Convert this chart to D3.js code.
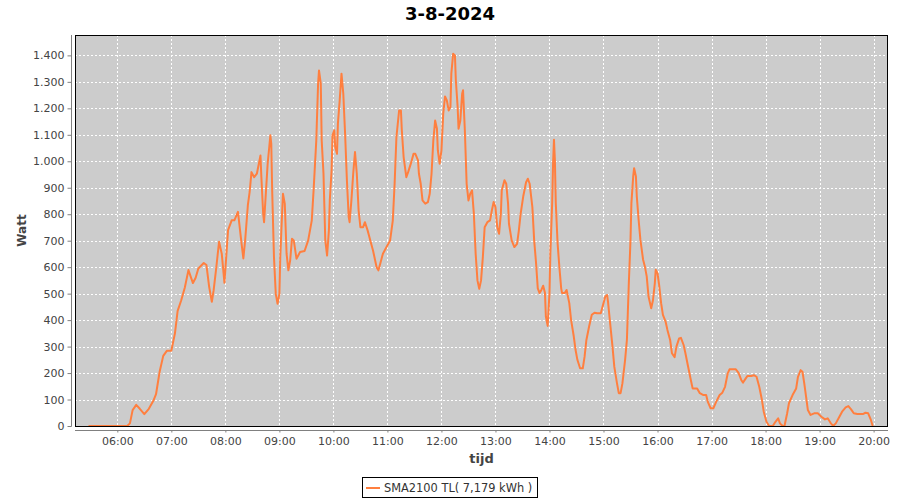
<!DOCTYPE html>
<html>
<head>
<meta charset="utf-8">
<script src="https://cdn.jsdelivr.net/npm/d3@7"></script>
<style>
  html, body { margin: 0; padding: 0; background: #ffffff; }
  svg { display: block; }
</style>
</head>
<body>
<svg id="chart" width="900" height="500"></svg>
<script>
const chartTitle = "3-8-2024";
const xAxisTitle = "tijd";
const yAxisTitle = "Watt";
const seriesName = "SMA2100 TL( 7,179 kWh )";
const xTickLabels = ["06:00","07:00","08:00","09:00","10:00","11:00","12:00","13:00","14:00","15:00","16:00","17:00","18:00","19:00","20:00"];
const yTickValues = [0,100,200,300,400,500,600,700,800,900,1000,1100,1200,1300,1400];

const times = [
"05:28","06:11","06:14","06:17","06:21","06:25","06:30","06:35","06:40","06:43","06:47","06:51","06:55","07:00",
"07:04","07:07","07:11","07:15","07:19","07:24","07:27","07:30","07:36","07:39","07:42","07:45","07:47","07:50",
"07:53","07:56","07:59","08:03","08:07","08:10","08:14","08:18","08:20","08:22","08:25","08:27","08:29","08:32",
"08:35","08:39","08:40","08:42","08:43","08:47","08:50","08:51","08:52","08:54","08:56","08:58","09:00","09:01",
"09:03","09:04","09:06","09:08","09:10","09:12","09:14","09:16","09:19","09:23","09:28","09:32","09:36","09:38",
"09:41","09:43","09:44","09:46","09:47","09:49","09:50","09:51","09:53","09:55","09:56","09:58","09:59","10:01",
"10:02","10:04","10:05","10:07","10:09","10:11","10:13","10:15","10:17","10:18","10:20","10:22","10:24","10:26",
"10:28","10:30","10:33","10:35","10:38","10:41","10:44","10:48","10:50","10:52","10:55","10:59","11:03","11:06",
"11:08","11:10","11:13","11:15","11:16","11:18","11:21","11:23","11:26","11:29","11:31","11:34","11:35","11:37",
"11:39","11:42","11:45","11:47","11:49","11:51","11:53","11:55","11:56","11:58","12:00","12:02","12:04","12:06",
"12:08","12:10","12:11","12:13","12:15","12:16","12:18","12:19","12:21","12:23","12:24","12:26","12:28","12:30",
"12:32","12:34","12:36","12:38","12:40","12:42","12:44","12:46","12:48","12:51","12:54","12:56","12:58","13:00",
"13:02","13:04","13:06","13:07","13:10","13:12","13:14","13:15","13:18","13:21","13:24","13:26","13:28","13:31",
"13:34","13:36","13:38","13:41","13:43","13:45","13:47","13:49","13:51","13:53","13:55","13:56","13:58","14:00",
"14:01","14:03","14:04","14:05","14:06","14:07","14:09","14:11","14:13","14:14","14:17","14:19","14:22","14:24",
"14:27","14:29","14:31","14:34","14:37","14:39","14:41","14:44","14:47","14:50","14:53","14:57","14:59","15:02",
"15:04","15:05","15:07","15:10","15:12","15:15","15:17","15:19","15:21","15:24","15:26","15:27","15:28","15:30",
"15:31","15:33","15:34","15:36","15:37","15:39","15:41","15:44","15:46","15:48","15:50","15:53","15:55","15:57",
"15:58","16:00","16:02","16:04","16:06","16:09","16:11","16:14","16:16","16:19","16:21","16:24","16:26","16:29",
"16:31","16:34","16:37","16:39","16:42","16:44","16:47","16:51","16:54","16:56","16:59","17:02","17:05","17:09",
"17:12","17:15","17:18","17:20","17:24","17:27","17:30","17:33","17:35","17:38","17:40","17:44","17:47","17:50",
"17:53","17:56","17:58","18:01","18:04","18:08","18:11","18:14","18:16","18:19","18:21","18:24","18:26","18:30",
"18:34","18:36","18:39","18:41","18:43","18:45","18:47","18:50","18:54","18:58","19:02","19:06","19:09","19:12",
"19:15","19:18","19:22","19:25","19:29","19:32","19:35","19:38","19:42","19:48","19:51","19:54","19:57","19:59"
];
const watts = [
0,0,10,60,80,65,45,65,95,120,205,265,284,284,
350,435,475,523,589,540,560,595,616,608,526,469,513,601,
696,651,541,740,777,777,809,689,633,702,834,884,959,940,
953,1022,940,802,770,991,1098,1066,890,638,499,462,499,638,
802,877,840,651,588,626,707,701,632,657,661,701,777,890,
1079,1293,1343,1293,1079,953,827,701,644,739,852,966,1098,1117,
1054,1028,1142,1230,1331,1255,1104,928,789,770,852,953,1035,953,
814,751,751,770,739,701,663,600,588,613,651,676,701,777,
915,1091,1192,1192,1117,1016,940,959,991,1028,1028,1003,953,915,
852,840,846,877,953,1079,1154,1123,1041,991,1040,1180,1245,1230,
1192,1205,1331,1406,1400,1306,1205,1123,1154,1255,1268,1117,915,852,
877,890,802,651,550,518,550,638,751,770,777,814,846,827,
751,726,802,890,928,915,840,764,701,676,688,739,802,870,
921,934,915,827,701,620,520,502,514,530,502,413,378,502,
653,842,993,1081,1006,842,691,600,520,502,502,514,464,401,
338,287,250,218,218,262,325,376,420,428,426,426,451,489,
495,470,401,300,224,161,124,124,161,250,325,426,527,703,
842,943,974,943,867,779,703,628,602,565,489,445,476,539,
590,577,527,464,420,394,363,325,275,260,300,331,333,306,
275,224,174,142,142,142,124,117,117,90,67,67,90,117,
126,148,199,214,214,214,201,174,164,180,189,189,192,186,
148,98,54,16,0,0,16,29,10,0,0,48,86,117,
142,186,211,205,161,111,60,42,48,48,35,25,29,13,
0,10,35,54,70,75,63,48,45,45,50,48,23,0
];

const toMin = s => { const p = s.split(":"); return +p[0] * 60 + +p[1]; };
const data = times.map((t, i) => ({ t: toMin(t), v: watts[i] }));

const svg = d3.select("#chart");
const plot = { left: 75, right: 888, top: 35, bottom: 426 };

const x = d3.scaleLinear().domain([toMin("05:13"), toMin("20:16")]).range([plot.left, plot.right]);
const y = d3.scaleLinear().domain([0, 1477]).range([plot.bottom, plot.top]);

const nl = d3.formatLocale({ decimal: ",", thousands: ".", grouping: [3], currency: ["", ""] });
const fmt = nl.format(",d");

const FONT = "'DejaVu Sans', sans-serif";

// plot background
svg.append("rect")
  .attr("x", plot.left).attr("y", plot.top)
  .attr("width", plot.right - plot.left).attr("height", plot.bottom - plot.top)
  .attr("fill", "#cccccc");

// gridlines
const grid = svg.append("g").attr("stroke", "#ffffff").attr("stroke-width", 1).attr("stroke-dasharray", "2,2");
yTickValues.forEach(v => {
  grid.append("line")
    .attr("x1", plot.left).attr("x2", plot.right)
    .attr("y1", Math.round(y(v)) + 0.5).attr("y2", Math.round(y(v)) + 0.5);
});
xTickLabels.forEach(l => {
  grid.append("line")
    .attr("x1", Math.round(x(toMin(l))) + 0.5).attr("x2", Math.round(x(toMin(l))) + 0.5)
    .attr("y1", plot.top).attr("y2", plot.bottom);
});

// series line
const line = d3.line().x(d => x(d.t)).y(d => y(d.v));
svg.append("path")
  .datum(data)
  .attr("d", line)
  .attr("fill", "none")
  .attr("stroke", "#ff7f3f")
  .attr("stroke-width", 2)
  .attr("stroke-linejoin", "round");

// plot outline
svg.append("rect")
  .attr("x", plot.left + 0.5).attr("y", plot.top + 0.5)
  .attr("width", plot.right - plot.left - 1).attr("height", plot.bottom - plot.top)
  .attr("fill", "none").attr("stroke", "#000000").attr("stroke-width", 1);

// Y axis
const yAxis = d3.axisLeft(y).tickValues(yTickValues).tickFormat(fmt).tickSize(4).tickSizeOuter(0).tickPadding(3);
const gy = svg.append("g").attr("transform", "translate(71.5,0)").call(yAxis);
gy.select(".domain").attr("stroke", "#808080").attr("d", `M0,${plot.top}V${plot.bottom + 0.5}`);
gy.selectAll(".tick line").attr("stroke", "#808080");
gy.selectAll(".tick text").attr("fill", "#444444").style("font-family", FONT).style("font-size", "11px");

// X axis
const xAxis = d3.axisBottom(x).tickValues(xTickLabels.map(toMin))
  .tickFormat((d, i) => xTickLabels[i]).tickSize(2).tickSizeOuter(0).tickPadding(5);
const gx = svg.append("g").attr("transform", "translate(0,430.5)").call(xAxis);
gx.select(".domain").attr("stroke", "#808080").attr("d", `M${plot.left},0H${plot.right}`);
gx.selectAll(".tick line").attr("stroke", "#808080");
gx.selectAll(".tick text").attr("fill", "#444444").style("font-family", FONT).style("font-size", "11px");

// Title
svg.append("text")
  .attr("x", 450).attr("y", 20)
  .attr("text-anchor", "middle")
  .style("font-family", FONT).style("font-size", "18px").style("font-weight", "bold")
  .attr("fill", "#000000")
  .text(chartTitle);

// Axis titles
svg.append("text")
  .attr("x", (plot.left + plot.right) / 2).attr("y", 463)
  .attr("text-anchor", "middle")
  .style("font-family", FONT).style("font-size", "13px").style("font-weight", "bold")
  .attr("fill", "#444444")
  .text(xAxisTitle);

svg.append("text")
  .attr("transform", `translate(26,${(plot.top + plot.bottom) / 2}) rotate(-90)`)
  .attr("text-anchor", "middle")
  .style("font-family", FONT).style("font-size", "12px").style("font-weight", "bold")
  .attr("fill", "#444444")
  .text(yAxisTitle);

// Legend
const lg = svg.append("g");
lg.append("rect")
  .attr("x", 362.5).attr("y", 477.5).attr("width", 175).attr("height", 20)
  .attr("fill", "#ffffff").attr("stroke", "#000000").attr("stroke-width", 1);
lg.append("line")
  .attr("x1", 366).attr("x2", 380).attr("y1", 488).attr("y2", 488)
  .attr("stroke", "#ff7f3f").attr("stroke-width", 2);
lg.append("text")
  .attr("x", 384).attr("y", 492)
  .style("font-family", FONT).style("font-size", "11.4px")
  .attr("fill", "#333333")
  .text(seriesName);
</script>
</body>
</html>
